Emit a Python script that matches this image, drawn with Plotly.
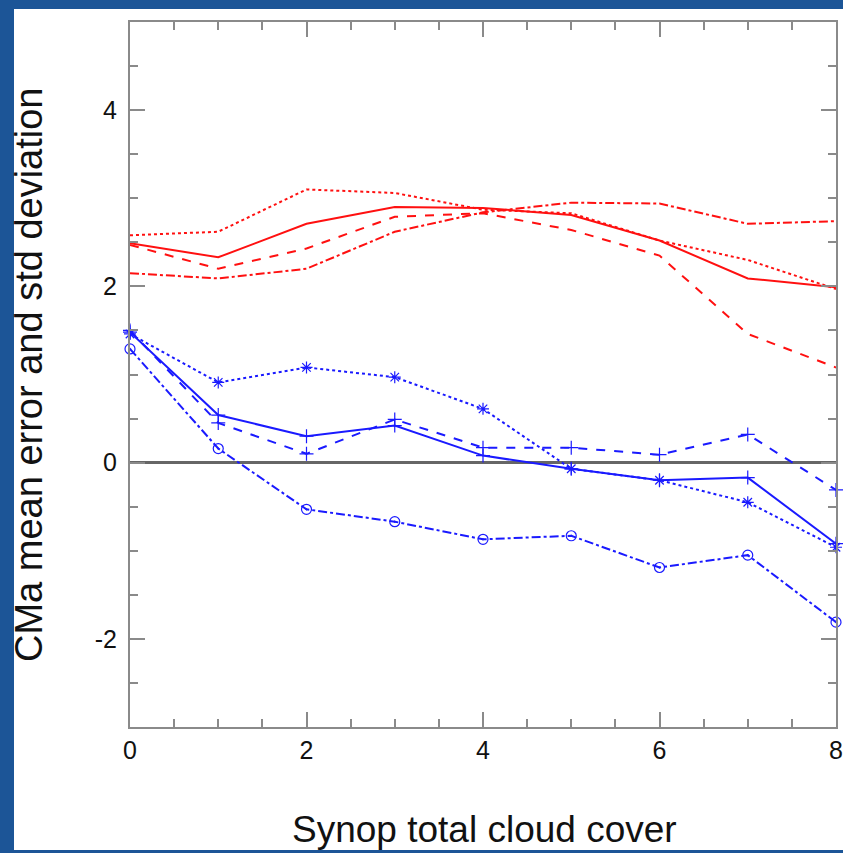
import plotly.graph_objects as go

cloud_cover = [0, 1, 2, 3, 4, 5, 6, 7, 8]

# red series (std deviation)
red_solid = [2.49, 2.33, 2.71, 2.90, 2.89, 2.81, 2.52, 2.09, 1.99]
red_dotted = [2.58, 2.62, 3.10, 3.06, 2.87, 2.83, 2.52, 2.30, 1.97]
red_dashed = [2.47, 2.20, 2.43, 2.79, 2.83, 2.64, 2.35, 1.46, 1.08]
red_dashdot = [2.15, 2.09, 2.20, 2.62, 2.84, 2.95, 2.94, 2.71, 2.74]

# blue series (mean error)
blue_solid = [1.48, 0.54, 0.30, 0.42, 0.08, -0.07, -0.20, -0.17, -0.92]
blue_dashed = [1.50, 0.45, 0.10, 0.49, 0.17, 0.17, 0.09, 0.32, -0.31]
blue_dotted = [1.46, 0.91, 1.08, 0.97, 0.61, -0.07, -0.20, -0.45, -0.96]
blue_dashdot = [1.29, 0.16, -0.53, -0.67, -0.87, -0.83, -1.19, -1.05, -1.81]

x_tickvals = [0, 2, 4, 6, 8]
x_ticktext = ["0", "2", "4", "6", "8"]
y_tickvals = [-2, 0, 2, 4]
y_ticktext = ["-2", "0", "2", "4"]

RED = "#ff1010"
BLUE = "#1a1aff"

fig = go.Figure()

for ys, dash in [(red_solid, "solid"), (red_dotted, "dot"),
                 (red_dashed, "dash"), (red_dashdot, "dashdot")]:
    fig.add_trace(go.Scatter(x=cloud_cover, y=ys, mode="lines",
                             line=dict(color=RED, width=2, dash=dash),
                             showlegend=False))

for ys, dash, sym in [(blue_solid, "solid", "cross-thin-open"),
                      (blue_dashed, "dash", "cross-thin-open"),
                      (blue_dotted, "dot", "asterisk-open"),
                      (blue_dashdot, "dashdot", "circle-open-dot")]:
    fig.add_trace(go.Scatter(x=cloud_cover, y=ys, mode="lines+markers",
                             line=dict(color=BLUE, width=2, dash=dash),
                             marker=dict(symbol=sym, size=10, color=BLUE,
                                         line=dict(color=BLUE, width=1.2)),
                             showlegend=False, cliponaxis=False))

AX = "#8a8a8a"
FONT = "Liberation Sans, Arial"
fig.update_xaxes(range=[0, 8], tickvals=x_tickvals, ticktext=x_ticktext,
                 ticks="inside", ticklen=15, automargin=False,
                 tickwidth=1.5, tickcolor=AX, showline=True, linecolor=AX,
                 linewidth=2, mirror="allticks", showgrid=False, zeroline=False,
                 minor=dict(dtick=0.5, ticks="inside", ticklen=8, tickcolor=AX,
                            tickwidth=1.5, showgrid=False),
                 ticklabelstandoff=0, ticklabelshift=0, ticklabeloverflow="allow",
                 tickfont=dict(family=FONT, size=25, color="#111"))
fig.update_yaxes(range=[-3, 5], tickvals=y_tickvals, ticktext=y_ticktext,
                 ticks="inside", ticklen=15, automargin=False,
                 tickwidth=1.5, tickcolor=AX, showline=True, linecolor=AX,
                 linewidth=2, mirror="allticks", showgrid=False,
                 zeroline=True, zerolinecolor="#666666", zerolinewidth=3,
                 minor=dict(dtick=0.5, ticks="inside", ticklen=8, tickcolor=AX,
                            tickwidth=1.5, showgrid=False),
                 ticklabelstandoff=6,
                 tickfont=dict(family=FONT, size=25, color="#111"))

fig.add_shape(type="rect", xref="paper", yref="paper",
              x0=(14 - 130) / 706, x1=(850 - 130) / 706,
              y0=(727 - 850) / 705, y1=(727 - 9) / 705,
              fillcolor="white", line=dict(width=0), layer="below")

fig.add_annotation(text="Synop total cloud cover", xref="paper", yref="paper",
                   x=(484 - 130) / 706, y=(727 - 829) / 705, showarrow=False,
                   xanchor="center", yanchor="middle",
                   font=dict(family=FONT, size=37, color="#111"))
fig.add_annotation(text="CMa mean error and std deviation", xref="paper", yref="paper",
                   x=(29 - 130) / 706, y=(727 - 375) / 705, showarrow=False,
                   textangle=-90, xanchor="center", yanchor="middle",
                   font=dict(family=FONT, size=38, color="#111"))

fig.update_layout(width=843, height=853,
                  margin=dict(l=130, r=7, t=22, b=126, autoexpand=False),
                  paper_bgcolor="#1c5597", plot_bgcolor="white")

fig.write_html("out.html", config={"displayModeBar": False},
               post_script="document.body.style.margin='0';"
                           "document.body.style.overflow='hidden';"
                           "document.body.style.background='#1c5597';")
